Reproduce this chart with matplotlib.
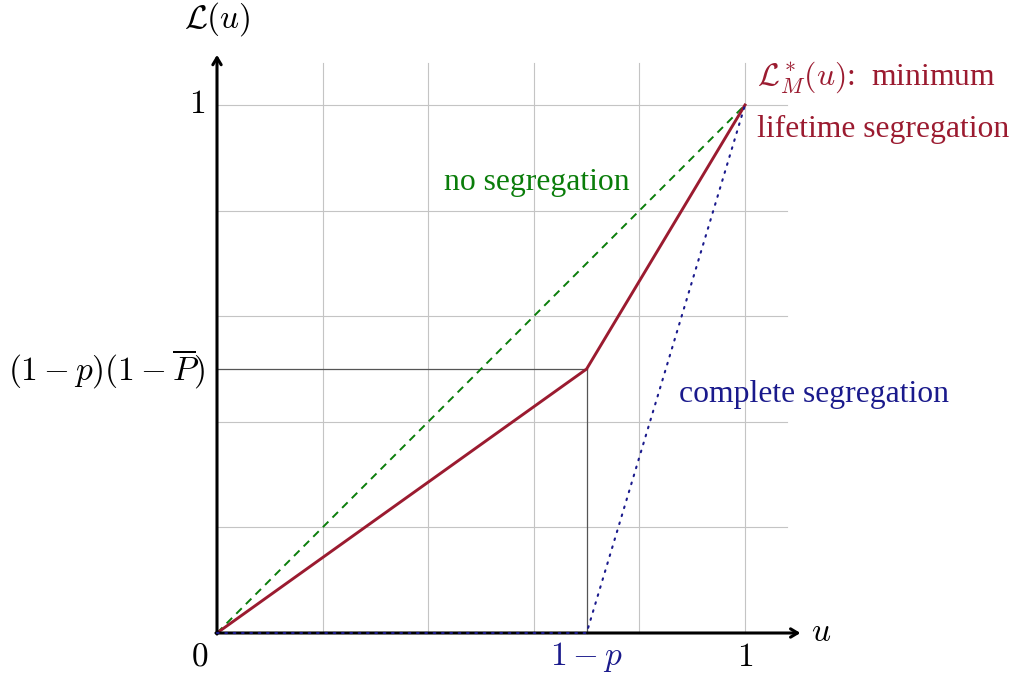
import numpy as np
import matplotlib
matplotlib.use("agg")
import matplotlib.pyplot as plt

plt.rcParams['mathtext.fontset'] = 'cm'
plt.rcParams['font.family'] = ['Liberation Serif', 'DejaVu Serif']

# curve data
u_none = [0.0, 1.0]
L_none = [0.0, 1.0]
u_min = [0.0, 0.7, 1.0]
L_min = [0.0, 0.5, 1.0]
u_full = [0.0, 0.7, 1.0]
L_full = [0.0, 0.0, 1.0]
kink_u = 0.7
kink_L = 0.5
grid_ticks = [0.2, 0.4, 0.6, 0.8, 1.0]

red = '#9b1b30'
green = '#0a7d0a'
blue = '#1a1a8c'

fig = plt.figure(figsize=(10.16, 6.77), dpi=100)
ax = fig.add_axes([0, 0, 1, 1])
ax.set_xlim(-217/528, (1016-217)/528)
ax.set_ylim(-(677-633)/528, 633/528)
ax.axis('off')

gmax = 1.08
for t in grid_ticks:
    ax.plot([t, t], [0, gmax], color='#c4c4c4', lw=0.8, zorder=1)
    ax.plot([0, gmax], [t, t], color='#c4c4c4', lw=0.8, zorder=1)

# guide lines to the kink
ax.plot([0, kink_u], [kink_L, kink_L], color='#555555', lw=0.9, zorder=2)
ax.plot([kink_u, kink_u], [0, kink_L], color='#555555', lw=0.9, zorder=2)

ax.plot(u_none, L_none, color=green, lw=1.4, ls=(0, (4, 3)), zorder=3)
ax.plot(u_min, L_min, color=red, lw=2.1, zorder=4)

# axes with arrows
arrow = dict(arrowstyle='->,head_length=0.5,head_width=0.3', lw=2.2,
             color='black', shrinkA=0, shrinkB=0)
ax.annotate('', xy=(1.105, 0), xytext=(-0.002, 0), arrowprops=arrow, zorder=5)
ax.annotate('', xy=(0, 1.095), xytext=(0, -0.002), arrowprops=arrow, zorder=5)

# complete segregation drawn over the axis, as in the original
ax.plot(u_full, L_full, color=blue, lw=1.5, ls=(0, (0.8, 3.2)),
        dash_capstyle='round', zorder=6)

fs = 24
ts = 22.8
ax.text(0, 1.162, r'$\mathcal{L}(u)$', fontsize=fs, ha='center', va='center')
ax.text(1.145, 0, r'$u$', fontsize=fs, ha='center', va='center')
ax.text(-0.023, 1.0, r'$1$', fontsize=fs, ha='right', va='center')
ax.text(-0.023, kink_L, r'$(1-p)(1-\overline{P})$', fontsize=fs,
        ha='right', va='center')
ax.text(-0.033, -0.046, r'$0$', fontsize=fs, ha='center', va='center')
ax.text(1.0, -0.046, r'$1$', fontsize=fs, ha='center', va='center')
ax.text(kink_u, -0.046, r'$1-p$', fontsize=fs, ha='center', va='center',
        color=blue)

ax.text(0.606, 0.854, 'no segregation', fontsize=ts, ha='center',
        va='center', color=green)
ax.text(0.875, 0.451, 'complete segregation', fontsize=ts, ha='left',
        va='center', color=blue)
ax.text(1.022, 1.053, r'$\mathcal{L}^*_M(u)$:  minimum', fontsize=ts,
        ha='left', va='center', color=red)
ax.text(1.022, 0.953, 'lifetime segregation', fontsize=ts, ha='left',
        va='center', color=red)

fig.savefig('out.png', dpi=100)
